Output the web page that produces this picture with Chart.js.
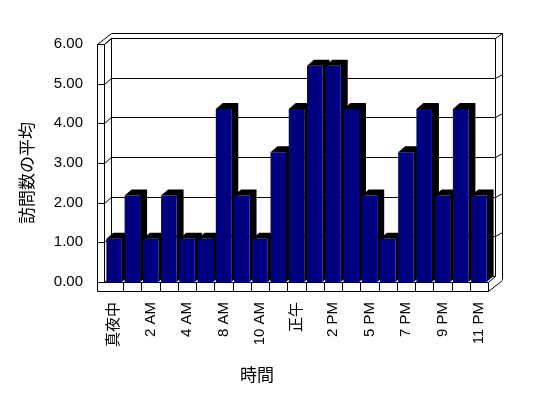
<!DOCTYPE html>
<html>
<head>
<meta charset="utf-8">
<script src="https://cdn.jsdelivr.net/npm/chart.js@4.4.1/dist/chart.umd.min.js"></script>
<style>
  body { margin: 0; background: #fff; }
  #wrap { width: 548px; height: 398px; }
</style>
</head>
<body>
<div id="wrap"><canvas id="chartCanvas" width="548" height="398"></canvas></div>
<script>
// hour categories (only every other one is labelled on the axis)
const hours = ['真夜中', '1 AM', '2 AM', '3 AM', '4 AM', '6 AM', '8 AM', '9 AM', '10 AM', '11 AM', '正午',
               '1 PM', '2 PM', '3 PM', '5 PM', '6 PM', '7 PM', '8 PM', '9 PM', '10 PM', '11 PM'];
// average visits per hour
const avgVisits = [1.09, 2.18, 1.09, 2.18, 1.09, 1.09, 4.36, 2.18, 1.09, 3.27, 4.36,
                   5.45, 5.45, 4.36, 2.18, 1.09, 3.27, 4.36, 2.18, 4.36, 2.18];
const yTitle = '訪問数の平均';
const xTitle = '時間';

const FONT = '"Liberation Sans", Arial, "Noto Sans CJK JP", sans-serif';
const CJK = '"Noto Sans CJK JP", sans-serif';
const DX = 7, DY = -6; // 3d depth offset

Chart.defaults.color = '#000';

//Draws the walls, floor and gridlines of the 3d box behind the bars
const box3d = {
    id: 'box3d',
    beforeDatasetsDraw(chart) {
        const ctx = chart.ctx;
        const a = chart.chartArea;
        const y = chart.scales.y;
        const L = Math.round(a.left), R = Math.round(a.right);
        const T = Math.round(a.top), B = Math.round(a.bottom);
        const wl = L - 8;          // outer face of left wall
        const wi = L - 1;          // inner face of left wall
        const bl = wi + DX;        // back wall left
        const br = R + DX;         // back wall right
        const ol = br + DX;        // outer right
        const line = (pts) => {
            ctx.beginPath();
            ctx.moveTo(pts[0][0] + 0.5, pts[0][1] + 0.5);
            for (let i = 1; i < pts.length; i++) ctx.lineTo(pts[i][0] + 0.5, pts[i][1] + 0.5);
            ctx.stroke();
        };
        ctx.save();
        ctx.strokeStyle = '#000';
        ctx.lineWidth = 1;

        //left wall
        line([[wl, B + 9], [wl, T], [bl, T + 2 * DY + 1]]);
        line([[wi, B], [wi, T], [bl, T + DY]]);
        line([[bl, T + DY], [bl, B + DY]]);
        //back wall top and right
        line([[bl, T + 2 * DY + 1], [ol, T + 2 * DY + 1], [ol, B + 2 * DY + 9]]);
        line([[bl, T + DY], [br, T + DY], [br, B + DY]]);
        line([[br, T + DY], [ol, T + 2 * DY + 1]]);

        //gridlines on back wall and left wall
        for (let v = 0; v <= 6; v++) {
            const yf = Math.round(y.getPixelForValue(v));
            line([[wl, yf], [wi, yf], [bl, yf + DY]]);
            if (v > 0 && v < 6) {
                line([[bl, yf + DY], [br, yf + DY], [ol, yf + DY - 4]]);
            }
        }

        //floor
        line([[wl, B + 9], [R, B + 9], [ol, B + 9 + DY * 2 + 1]]);
        line([[wi, B], [R, B], [br, B + DY]]);
        line([[R, B], [R, B + 9]]);
        line([[bl, B + DY], [br, B + DY]]);
        const cw = (R - L) / hours.length;
        for (let i = 1; i < hours.length; i++) {
            const xx = Math.round(L + i * cw);
            line([[xx, B], [xx, B + 9]]);
        }

        //black depth faces of the bars
        ctx.fillStyle = '#000';
        chart.getDatasetMeta(0).data.forEach((bar) => {
            const p = bar.getProps(['x', 'y', 'base', 'width'], true);
            const x0 = p.x - p.width / 2, x1 = p.x + p.width / 2;
            ctx.beginPath();
            ctx.moveTo(x1, p.base);
            ctx.lineTo(x1, p.y);
            ctx.lineTo(x0, p.y);
            ctx.lineTo(x0 + DX, p.y + DY);
            ctx.lineTo(x1 + DX, p.y + DY);
            ctx.lineTo(x1 + DX, p.base + DY);
            ctx.closePath();
            ctx.fill();
        });
        ctx.restore();
    },
    afterDraw(chart) {
        const ctx = chart.ctx;
        ctx.save();
        ctx.fillStyle = '#000';
        ctx.font = '17px ' + CJK;
        ctx.textAlign = 'center';
        ctx.textBaseline = 'middle';
        ctx.fillText(xTitle, 257, 375);
        ctx.translate(27, 173);
        ctx.rotate(-Math.PI / 2);
        ctx.fillText(yTitle, 0, 0);
        ctx.restore();
    }
};

const ctx = document.getElementById('chartCanvas');
new Chart(ctx, {
    type: 'bar',
    data: {
        labels: hours,
        datasets: [{
            label: yTitle,
            data: avgVisits,
            backgroundColor: '#000080',
            borderWidth: 0,
            categoryPercentage: 1,
            barPercentage: 0.85
        }]
    },
    options: {
        responsive: false,
        animation: false,
        layout: { padding: { left: 0, top: 44, right: 60, bottom: 0 } },
        plugins: { legend: { display: false }, tooltip: { enabled: false } },
        scales: {
            x: {
                grid: { display: false, drawTicks: false },
                border: { display: false },
                afterFit: (s) => { s.height = 116; },
                ticks: {
                    autoSkip: false,
                    maxRotation: 90,
                    minRotation: 90,
                    padding: 20,
                    font: { family: FONT, size: 15 },
                    callback: function (val, i) {
                        return i % 2 === 0 ? this.getLabelForValue(val) : '';
                    }
                }
            },
            y: {
                min: 0,
                max: 6,
                grid: { display: false, drawTicks: false },
                border: { display: false },
                afterFit: (s) => { s.width = 105; },
                ticks: {
                    stepSize: 1,
                    padding: 22,
                    font: { family: FONT, size: 15 },
                    callback: (v) => v.toFixed(2)
                }
            }
        }
    },
    plugins: [box3d]
});
</script>
</body>
</html>
